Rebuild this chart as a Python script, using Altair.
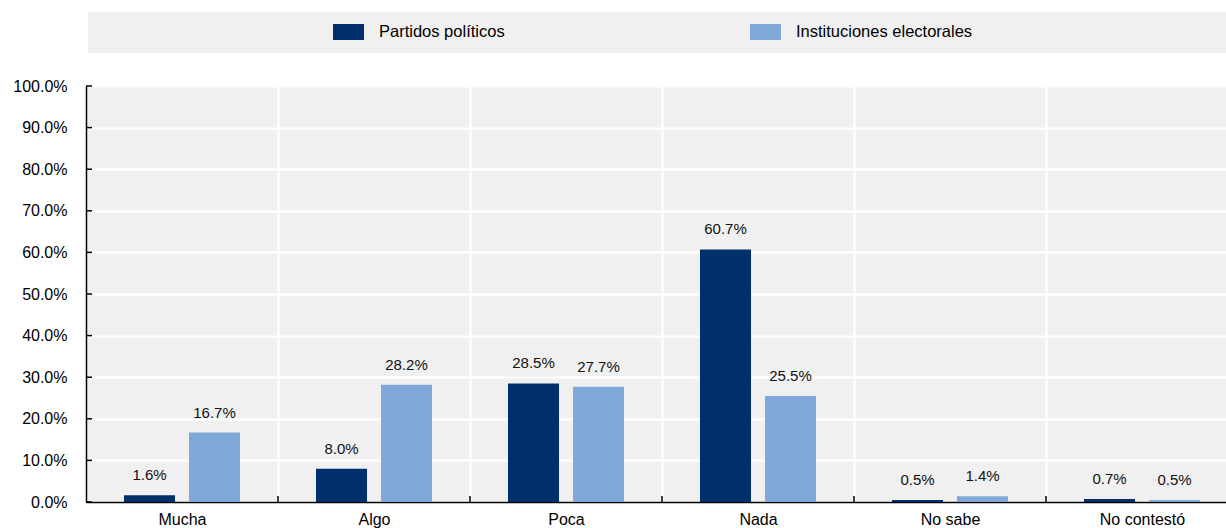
import altair as alt
import pandas as pd

# Survey answers and the share for each institution (percent)
categorias = ["Mucha", "Algo", "Poca", "Nada", "No sabe", "No contestó"]
series = ["Partidos políticos", "Instituciones electorales"]
partidos = [1.6, 8.0, 28.5, 60.7, 0.5, 0.7]
instituciones = [16.7, 28.2, 27.7, 25.5, 1.4, 0.5]
colores = ["#002F6C", "#7FA8D9"]
y_ticks = [0.0, 0.1, 0.2, 0.3, 0.4, 0.5, 0.6, 0.7, 0.8, 0.9, 1.0]

FONT = "Liberation Sans"
W, H = 1140, 416

rows = []
for cat, p, i in zip(categorias, partidos, instituciones):
    rows.append({"cat": cat, "serie": series[0], "valor": p / 100})
    rows.append({"cat": cat, "serie": series[1], "valor": i / 100})
df = pd.DataFrame(rows)

x_scale = alt.Scale(domain=categorias, range=[0, 1152], paddingInner=0, paddingOuter=0)
y_scale = alt.Scale(domain=[0, 1], nice=False)
off_scale = alt.Scale(domain=series, paddingInner=0.215, paddingOuter=0.585)

x_enc = alt.X(
    "cat:N", sort=categorias, scale=x_scale, title=None,
    axis=alt.Axis(
        labelAngle=0, labelFont=FONT, labelFontSize=16, labelColor="#000000",
        labelPadding=9, ticks=False, domain=True, domainColor="#000000",
        domainWidth=1.5, grid=True, gridColor="#ffffff", gridWidth=2,
        tickBand="extent",
    ),
)
y_enc = alt.Y(
    "valor:Q", scale=y_scale, title=None,
    axis=alt.Axis(
        values=y_ticks, format=".1%", labelFont=FONT, labelFontSize=16,
        labelColor="#000000", labelPadding=19, ticks=False, domain=True,
        domainColor="#000000", domainWidth=1.5, grid=True,
        gridColor="#ffffff", gridWidth=2,
    ),
)

base = alt.Chart(df)

bars = base.mark_bar().encode(
    x=x_enc,
    xOffset=alt.XOffset("serie:N", sort=series, scale=off_scale),
    y=y_enc,
    color=alt.Color(
        "serie:N", sort=series,
        scale=alt.Scale(domain=series, range=colores),
        legend=alt.Legend(
            title=None, orient="none", direction="horizontal",
            legendX=247, legendY=-69.5, padding=0,
            symbolType="M-1,-0.516H1V0.516H-1Z", symbolSize=961,
            symbolStrokeWidth=0, symbolOpacity=1,
            labelFont=FONT, labelFontSize=16.5, labelColor="#000000",
            labelOffset=15, columnPadding=245, labelLimit=400,
        ),
    ),
)

labels = base.mark_text(
    font=FONT, fontSize=15, color="#111111", baseline="alphabetic", dy=-15
).encode(
    x=alt.X("cat:N", sort=categorias, scale=x_scale),
    xOffset=alt.XOffset("serie:N", sort=series, scale=off_scale),
    y=alt.Y("valor:Q", scale=y_scale),
    text=alt.Text("valor:Q", format=".1%"),
)

# Inward tick marks on the value axis
ticks_df = pd.DataFrame({"t": y_ticks})
y_ticks_marks = alt.Chart(ticks_df).mark_rule(color="#000000", strokeWidth=1.5).encode(
    y=alt.Y("t:Q", scale=y_scale),
    x=alt.value(0),
    x2=alt.value(6),
)

# Inward tick marks at the category boundaries
bound_df = pd.DataFrame({"cat": categorias[1:]})
x_ticks_marks = alt.Chart(bound_df).mark_rule(color="#000000", strokeWidth=1.5).encode(
    x=alt.X("cat:N", sort=categorias, scale=x_scale, bandPosition=0),
    y=alt.value(H - 6),
    y2=alt.value(H),
)

# Grey strip behind the legend
strip = alt.Chart(pd.DataFrame({"s": [0]})).mark_rect(color="#f0f0f0").encode(
    x=alt.value(2), x2=alt.value(1160), y=alt.value(-74), y2=alt.value(-33)
)

chart = alt.layer(strip, bars, labels, y_ticks_marks, x_ticks_marks).properties(
    width=W, height=H,
    autosize=alt.AutoSizeParams(type="none"),
    padding={"left": 86, "top": 86, "right": 0, "bottom": 26},
    background="#ffffff",
).configure_view(fill="#f0f0f0", stroke=None)

chart.save("out.html", embed_options={"renderer": "svg", "actions": False})
